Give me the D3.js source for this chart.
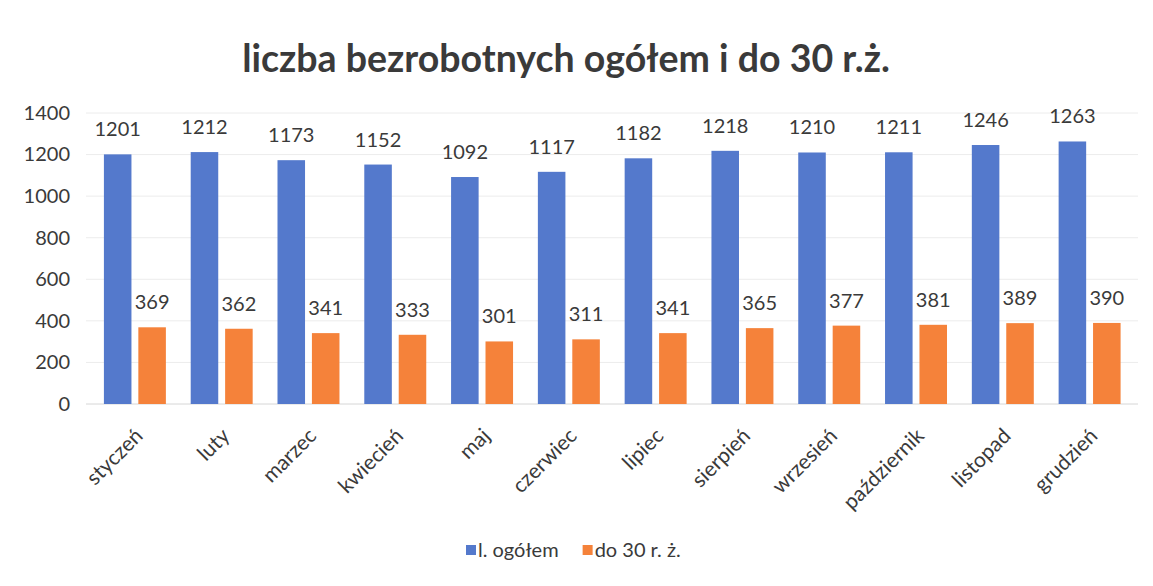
<!DOCTYPE html>
<html>
<head>
<meta charset="utf-8">
<script src="https://cdn.jsdelivr.net/npm/d3@7"></script>
<style>
  body { margin: 0; background: #fff; }
  text { font-family: Lato, "Open Sans", sans-serif; fill: #3a3a3a; }
</style>
</head>
<body>
<svg id="chart"></svg>
<script>
// data
const months = ["styczeń", "luty", "marzec", "kwiecień", "maj", "czerwiec",
                "lipiec", "sierpień", "wrzesień", "październik", "listopad", "grudzień"];
const ogolem = [1201, 1212, 1173, 1152, 1092, 1117, 1182, 1218, 1210, 1211, 1246, 1263];
const do30   = [369, 362, 341, 333, 301, 311, 341, 365, 377, 381, 389, 390];
const seriesNames = ["l. ogółem", "do 30 r. ż."];
const yTicks = [0, 200, 400, 600, 800, 1000, 1200, 1400];
const title = "liczba bezrobotnych ogółem i do 30 r.ż.";

const W = 1153, H = 586;
const colors = ["#5479cc", "#f5823a"];

const svg = d3.select("#chart").attr("width", W).attr("height", H);

const x0 = d3.scaleBand().domain(months).range([91.5, 1133])
    .paddingInner(0.286).paddingOuter(0.143);
const x1 = d3.scaleBand().domain(seriesNames).range([0, x0.bandwidth()]).paddingInner(0.2);
const y = d3.scaleLinear().domain([0, 1400]).range([404, 113]);

// title, squeezed to the width seen in the picture
const t = svg.append("text")
    .attr("x", 566).attr("y", 72)
    .attr("text-anchor", "middle")
    .style("font-size", "34px").style("font-weight", 700)
    .text(title);
const tw = t.node().getComputedTextLength();
t.style("font-size", (34 * 648 / tw) + "px");

// gridlines
svg.append("g").selectAll("line").data(yTicks).join("line")
    .attr("x1", 86).attr("x2", 1138)
    .attr("y1", d => y(d)).attr("y2", d => y(d))
    .attr("stroke", d => d === 0 ? "#d6d6d6" : "#ececec")
    .attr("stroke-width", 1);

// y axis
const yAxis = svg.append("g")
    .attr("transform", "translate(70,0)")
    .call(d3.axisLeft(y).tickValues(yTicks).tickFormat(d3.format("d")).tickSize(0).tickPadding(0));
yAxis.select(".domain").remove();
yAxis.selectAll("text").style("font-size", "20px").style("fill", "#3a3a3a")
    .style("font-family", "Lato, sans-serif");

// bars
const rows = months.map((m, i) => ({ month: m, vals: [ogolem[i], do30[i]] }));
const groups = svg.append("g").selectAll("g").data(rows).join("g")
    .attr("transform", d => `translate(${x0(d.month)},0)`);

groups.selectAll("rect").data(d => d.vals.map((v, j) => ({ key: seriesNames[j], v, j })))
  .join("rect")
    .attr("x", d => x1(d.key))
    .attr("width", x1.bandwidth())
    .attr("y", d => y(d.v))
    .attr("height", d => y(0) - y(d.v))
    .attr("fill", d => colors[d.j]);

groups.selectAll("text").data(d => d.vals.map((v, j) => ({ key: seriesNames[j], v, j })))
  .join("text")
    .attr("x", d => x1(d.key) + x1.bandwidth() / 2)
    .attr("y", d => y(d.v) - 18)
    .attr("text-anchor", "middle")
    .style("font-size", "20px")
    .text(d => d.v);

// month labels
const xAxis = svg.append("g")
    .attr("transform", `translate(0,${y(0)})`)
    .call(d3.axisBottom(x0).tickSize(0).tickPadding(0));
xAxis.select(".domain").remove();
xAxis.selectAll("text")
    .style("font-size", "21px").style("fill", "#3a3a3a")
    .style("font-family", "Lato, sans-serif")
    .attr("text-anchor", "end")
    .attr("y", 0)
    .attr("dy", "0.35em")
    .attr("transform", "translate(4,28) rotate(-45)");

// legend
const leg = svg.append("g");
let lx = 466;
seriesNames.forEach((name, i) => {
  leg.append("rect").attr("x", lx).attr("y", 545).attr("width", 10).attr("height", 10)
      .attr("fill", colors[i]);
  const lt = leg.append("text").attr("x", lx + 12).attr("y", 557)
      .style("font-size", "20px").text(name);
  lx += 12 + lt.node().getComputedTextLength() + 24;
});
</script>
</body>
</html>
